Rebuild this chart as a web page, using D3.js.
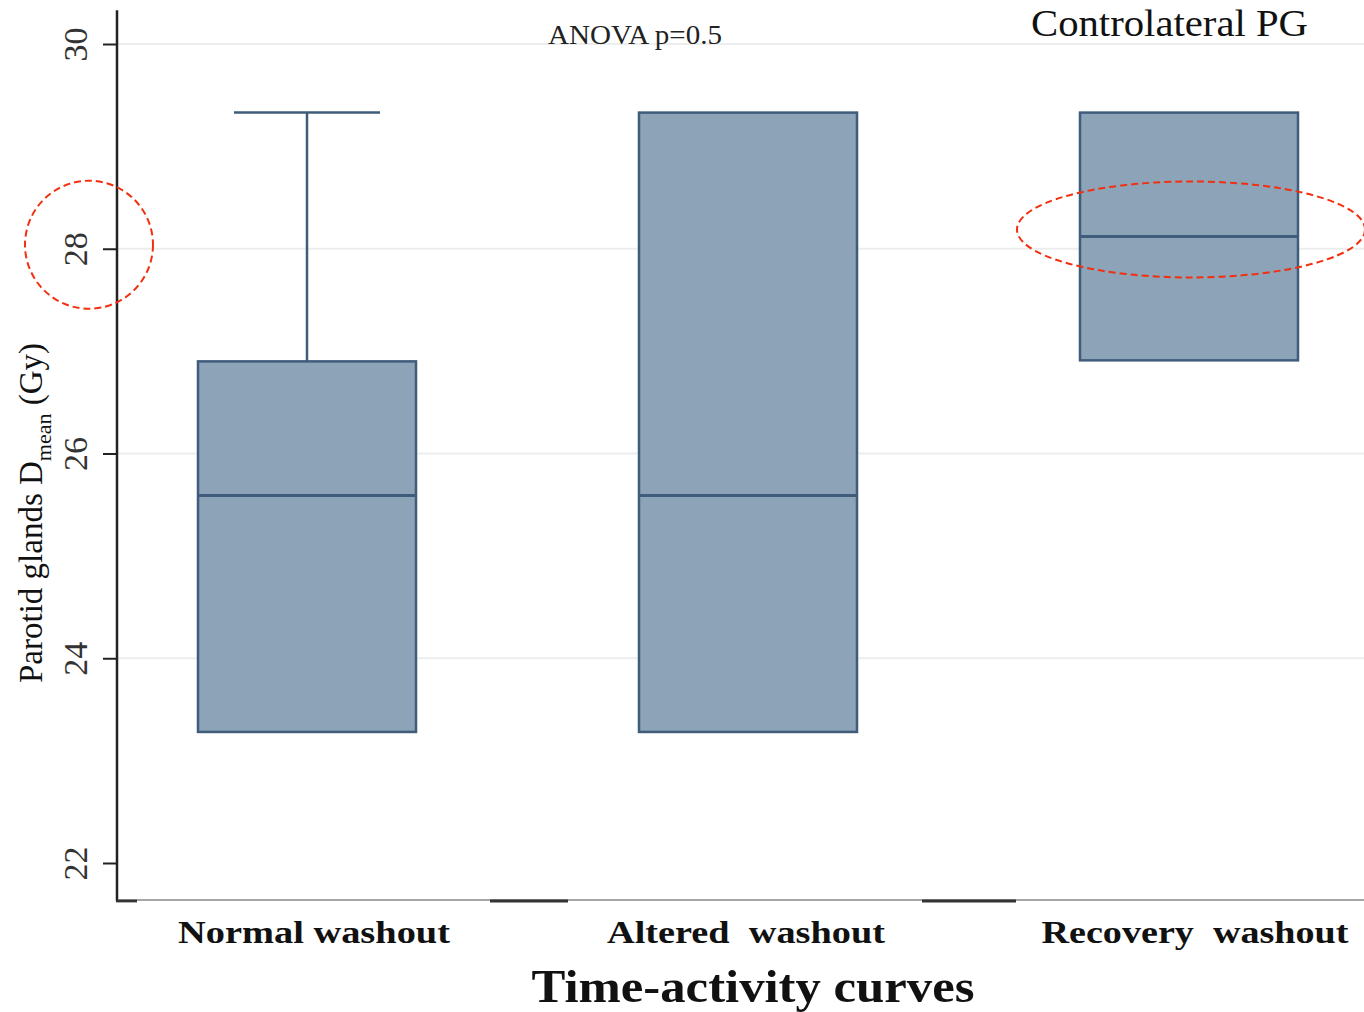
<!DOCTYPE html>
<html lang="en">
<head>
<meta charset="UTF-8">
<title>Controlateral PG</title>
<style>
  body { margin: 0; background: #fff; }
  svg text { font-family: "Liberation Serif", "DejaVu Serif", serif; }
</style>
</head>
<body>
<div id="chart"></div>
<script src="https://cdn.jsdelivr.net/npm/d3@7"></script>
<script>
// data
const categories = ["Normal washout", "Altered  washout", "Recovery  washout"];
const q1Values = [23.28, 23.28, 26.91];
const medianValues = [25.59, 25.59, 28.12];
const q3Values = [26.90, 29.33, 29.33];
const upperWhisker = [29.33, 29.33, 29.33];
const lowerWhisker = [23.28, 23.28, 26.91];
const yTicks = [22, 24, 26, 28, 30];
const gridTicks = [24, 26, 28, 30];

const W = 1364, H = 1012;
const svg = d3.select("#chart").append("svg")
  .attr("width", W).attr("height", H);

const x = d3.scalePoint().domain(categories).range([307, 1189]);
const y = d3.scaleLinear().domain([22, 30]).range([863, 44]);
const boxW = 218, capW = 146;
const boxFill = "#8ca3b8", boxStroke = "#3f5c7a";

const data = categories.map((c, i) => ({
  cat: c, q1: q1Values[i], med: medianValues[i], q3: q3Values[i],
  hi: upperWhisker[i], lo: lowerWhisker[i]
}));

// gridlines
svg.append("g").selectAll("line").data(gridTicks).join("line")
  .attr("x1", 117).attr("x2", W)
  .attr("y1", d => y(d)).attr("y2", d => y(d))
  .attr("stroke", "#eceeee").attr("stroke-width", 2);

// y axis
const yAxis = svg.append("g")
  .attr("transform", "translate(117,0)")
  .call(d3.axisLeft(y).tickValues(yTicks).tickSize(14).tickPadding(6));
yAxis.select(".domain").remove();
yAxis.selectAll(".tick line").attr("stroke", "#222").attr("stroke-width", 2);
yAxis.selectAll(".tick text")
  .attr("transform", "rotate(-90)")
  .attr("x", 0).attr("y", -42)
  .attr("dy", "0.35em")
  .attr("text-anchor", "middle")
  .style("font-size", "34px")
  .style("font-family", "'Liberation Serif', serif")
  .attr("fill", "#333");

svg.append("line")
  .attr("x1", 117).attr("x2", 117)
  .attr("y1", y(30.33)).attr("y2", y(21.63))
  .attr("stroke", "#222").attr("stroke-width", 2.5);

// x axis (broken baseline)
const baseY = y(21.63);
svg.append("line")
  .attr("x1", 137).attr("x2", W).attr("y1", baseY - 1).attr("y2", baseY - 1)
  .attr("stroke", "#888").attr("stroke-width", 1.5);
[[116, 137], [490, 568], [922, 1016]].forEach(s => {
  svg.append("line")
    .attr("x1", s[0]).attr("x2", s[1]).attr("y1", baseY).attr("y2", baseY)
    .attr("stroke", "#333").attr("stroke-width", 3);
});

// whiskers
const g = svg.append("g");
g.selectAll(".whisker").data(data.filter(d => d.hi > d.q3)).join("line")
  .attr("x1", d => x(d.cat)).attr("x2", d => x(d.cat))
  .attr("y1", d => y(d.q3)).attr("y2", d => y(d.hi))
  .attr("stroke", boxStroke).attr("stroke-width", 2.5);
g.selectAll(".cap").data(data.filter(d => d.hi > d.q3)).join("line")
  .attr("x1", d => x(d.cat) - capW / 2).attr("x2", d => x(d.cat) + capW / 2)
  .attr("y1", d => y(d.hi)).attr("y2", d => y(d.hi))
  .attr("stroke", boxStroke).attr("stroke-width", 2.5);

// boxes
g.selectAll("rect").data(data).join("rect")
  .attr("x", d => x(d.cat) - boxW / 2)
  .attr("width", boxW)
  .attr("y", d => y(d.q3))
  .attr("height", d => y(d.q1) - y(d.q3))
  .attr("fill", boxFill)
  .attr("stroke", boxStroke).attr("stroke-width", 2.5);
g.selectAll(".median").data(data).join("line")
  .attr("x1", d => x(d.cat) - boxW / 2).attr("x2", d => x(d.cat) + boxW / 2)
  .attr("y1", d => y(d.med)).attr("y2", d => y(d.med))
  .attr("stroke", boxStroke).attr("stroke-width", 3);

// category labels
const labelShift = [7, -2, 6];
const labelWidth = [272, 278, 307];
svg.selectAll(".cat").data(categories).join("text")
  .attr("x", (d, i) => x(d) + labelShift[i])
  .attr("y", 943)
  .attr("text-anchor", "middle")
  .attr("xml:space", "preserve")
  .attr("textLength", (d, i) => labelWidth[i])
  .attr("lengthAdjust", "spacingAndGlyphs")
  .style("white-space", "pre")
  .style("font-size", "32px")
  .style("font-weight", "bold")
  .attr("fill", "#111")
  .text(d => d);

// axis titles
svg.append("text")
  .attr("x", 753).attr("y", 1002)
  .attr("text-anchor", "middle")
  .attr("textLength", 443).attr("lengthAdjust", "spacingAndGlyphs")
  .style("font-size", "46px").style("font-weight", "bold")
  .attr("fill", "#111")
  .text("Time-activity curves");

const yl = svg.append("text")
  .attr("transform", "translate(42,513) rotate(-90)")
  .attr("text-anchor", "middle")
  .style("font-size", "33px")
  .attr("fill", "#111");
yl.append("tspan").text("Parotid glands D");
yl.append("tspan").attr("dy", 9).style("font-size", "22px").text("mean");
yl.append("tspan").attr("dy", -9).text(" (Gy)");

// annotations
svg.append("text")
  .attr("x", 635).attr("y", 44)
  .attr("text-anchor", "middle")
  .attr("textLength", 174).attr("lengthAdjust", "spacingAndGlyphs")
  .style("font-size", "27px")
  .attr("fill", "#222")
  .text("ANOVA p=0.5");
svg.append("text")
  .attr("x", 1031).attr("y", 36)
  .attr("textLength", 277).attr("lengthAdjust", "spacingAndGlyphs")
  .style("font-size", "37px")
  .attr("fill", "#111")
  .text("Controlateral PG");

// red dashed highlights
svg.append("ellipse")
  .attr("cx", 89).attr("cy", y(28) - 4)
  .attr("rx", 64).attr("ry", 64)
  .attr("fill", "none").attr("stroke", "#f2300f")
  .attr("stroke-width", 2).attr("stroke-dasharray", "7,4");
svg.append("ellipse")
  .attr("cx", x(categories[2]) + 2).attr("cy", y(medianValues[2]) - 7)
  .attr("rx", 174).attr("ry", 48)
  .attr("fill", "none").attr("stroke", "#f2300f")
  .attr("stroke-width", 2).attr("stroke-dasharray", "7,4");
</script>
</body>
</html>
